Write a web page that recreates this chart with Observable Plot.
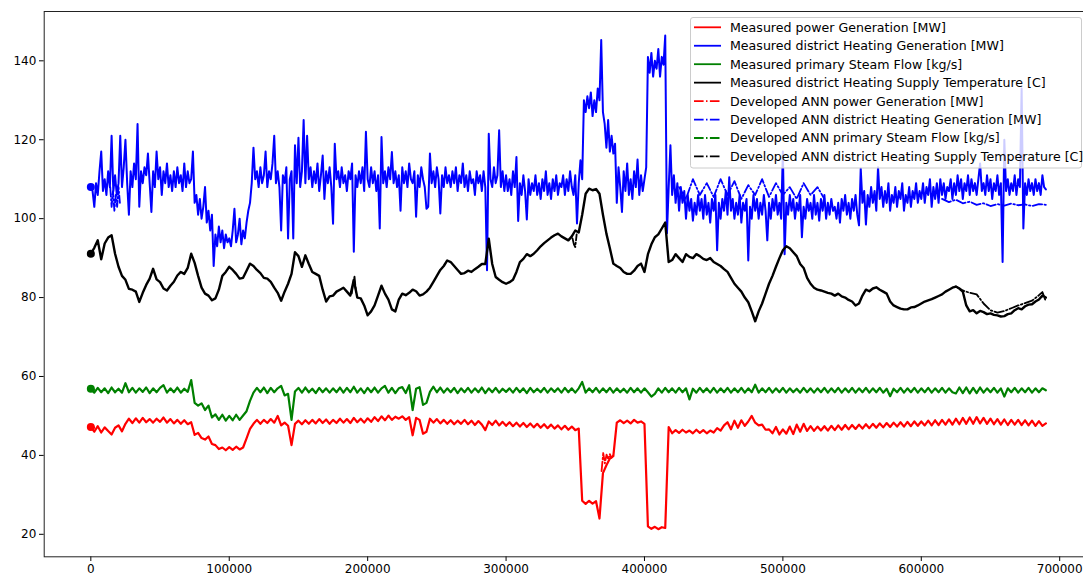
<!DOCTYPE html>
<html>
<head>
<meta charset="utf-8">
<script src="https://cdn.jsdelivr.net/npm/d3@7"></script>
<script src="https://cdn.jsdelivr.net/npm/@observablehq/plot@0.6"></script>
<style>
  html, body { margin: 0; padding: 0; background: #fff; overflow: hidden; }
</style>
</head>
<body>
<div id="chart"></div>
<script>
// Sample spacing of the logged series (time index units)
const heatStep = 1250;   // district heating generation
const plantStep = 2500;  // power, steam flow, supply temperature

// Measured district heating generation [MW], one value every 1250 samples
const heating = [
  108, 107, 103, 109, 106, 112, 117, 107, 110, 106, 112, 108, 121, 107, 111, 106,
  109, 121, 108, 113, 120, 109, 101, 112, 108, 114, 110, 124, 103, 112, 109, 113,
  111, 116.5, 109, 101.7, 112, 108, 117, 110, 113, 106, 112, 109, 114, 108, 111, 107,
  112, 108, 113, 109, 111, 107, 114, 108, 112, 109, 110, 117, 104, 106, 101, 105,
  100, 103, 108, 99, 102, 97, 101, 88, 96, 93, 98, 94, 97, 92.5, 96, 94,
  95, 93, 97, 102.5, 94, 96, 100, 93.5, 97, 95, 99, 102, 104, 109, 118, 110,
  112, 108, 113, 109, 111, 117, 108, 112, 110, 114, 121, 109, 112, 108, 97, 111,
  109, 113, 95, 110, 112, 95, 118.6, 109, 120.5, 108, 112, 125, 109, 121, 110, 113,
  108, 112, 109, 114, 107, 111, 116, 105, 112, 109, 113, 108, 98.7, 119, 110, 112,
  108, 113, 109, 111, 107, 112, 110, 114, 91.6, 111, 108, 112, 109, 113, 107, 122,
  110, 108, 113, 109, 112, 107, 111, 97.5, 120.7, 109, 112, 108, 113, 110, 116.9, 109,
  112, 108, 111, 102, 113, 109, 112, 108, 114, 110, 109, 112, 100.5, 111, 108, 113,
  110, 108, 102.5, 103, 116.5, 109, 112, 108, 113, 110, 101.3, 111, 108, 113, 109, 111,
  108, 112, 109, 113, 107, 111, 109, 114, 108, 111, 107, 112, 109, 110, 106, 112,
  109, 111, 107, 112, 108, 86.9, 121.5, 110, 108, 113, 109, 111, 122.4, 108, 112, 107,
  111, 107, 110, 106, 112, 108, 115.6, 99.4, 109, 106, 111, 107, 99.8, 110, 106, 109,
  107, 111, 106, 109, 105, 110, 107, 112, 106, 109, 105, 110, 107, 111, 106, 109,
  108, 111, 106, 110, 107, 112, 108, 106, 111, 98.8, 109, 114.8, 110, 130, 127, 131,
  128, 132, 126, 130, 127, 133, 130, 145.3, 127, 124, 118, 125, 117, 121, 116.5, 119,
  104, 113, 108, 101.7, 112, 107, 114, 106, 110, 105, 112, 108, 115, 106, 111, 107,
  110, 113, 141, 137, 142, 136, 140, 138, 143, 136, 141, 139, 146.4, 96.3, 108, 118.6,
  106, 111, 104, 109, 102, 108, 104, 107, 100, 106, 102, 105, 99.5, 104, 101, 106,
  102, 105, 100, 106, 101, 104, 99, 105, 102, 106, 92, 104, 100, 105, 102, 107,
  101, 110.5, 102, 105, 100, 104, 101, 106, 99, 104, 102, 105, 89.4, 103, 100, 106,
  102, 105, 100, 104, 101, 106, 102, 94.5, 104, 100, 105, 102, 106, 101, 104, 100,
  117, 91, 104, 101, 106, 102, 105, 100, 104, 102, 106, 95.3, 103, 100, 105, 102,
  104, 100, 106, 101, 104, 99.5, 105, 102, 106, 100, 104, 101, 105, 102, 103, 100,
  104, 99, 105, 102, 106, 101, 104, 100, 105, 102, 106, 101, 98.3, 112.7, 104, 107,
  98.5, 106, 103, 108, 104, 107, 102, 113, 105, 108, 103, 107, 104, 109, 102, 106,
  104, 108, 103, 107, 105, 109, 102, 106, 104, 108, 103, 107, 105, 109, 104, 107,
  105, 109, 104, 108, 106, 110, 103, 108, 105, 109, 104, 110, 106, 109, 105, 108,
  107, 110, 105, 109, 106, 111, 107, 110, 105, 109, 107, 111, 106, 110, 107, 109,
  106, 110, 114, 107, 109, 106, 111, 107, 110, 105, 109, 107, 111, 106, 109, 89,
  120, 107, 110, 106, 109, 107, 111, 106, 110, 108, 133, 97.5, 109, 106, 110, 107,
  109, 106, 110, 107, 109, 106, 111, 108, 107.4
];

// Measured primary steam flow [kg/s], one value every 2500 samples
const steam = [
  56.9, 55.9, 57.1, 56.0, 57.0, 55.8, 57.2, 56.0, 56.9, 55.9,
  58.3, 56.0, 57.1, 55.9, 57.0, 56.1, 57.2, 55.8, 57.0, 56.0,
  57.1, 57.8, 55.9, 57.0, 56.0, 57.2, 55.9, 56.9, 56.1, 59.1,
  53.3, 52.6, 53.2, 51.5, 52.6, 49.6, 50.4, 49.0, 50.3, 48.8,
  50.0, 48.9, 50.3, 49.0, 50.1, 51.2, 53.8, 55.9, 57.1, 56.0,
  57.2, 55.8, 57.1, 56.0, 57.0, 57.6, 55.2, 55.6, 49.0, 56.2,
  57.1, 55.9, 57.2, 56.0, 56.9, 55.8, 57.1, 56.0, 57.0, 55.9,
  57.0, 56.0, 57.2, 55.9, 57.1, 56.0, 57.4, 55.9, 57.0, 55.8,
  57.1, 56.0, 57.2, 55.9, 57.0, 57.6, 55.9, 57.1, 55.8, 57.0,
  57.3, 55.8, 57.8, 51.5, 56.9, 57.3, 52.8, 53.3, 56.1, 57.4,
  56.0, 57.2, 55.9, 57.0, 56.0, 57.1, 55.8, 57.0, 56.0, 57.1,
  55.9, 57.0, 56.0, 57.2, 55.8, 57.0, 56.0, 57.1, 55.9, 56.9,
  56.1, 57.0, 55.9, 57.1, 56.0, 57.0, 55.8, 57.1, 56.0, 56.9,
  56.0, 57.1, 55.9, 57.0, 56.1, 57.0, 55.9, 57.1, 56.0, 57.0,
  55.9, 57.0, 58.6, 55.9, 57.0, 56.0, 57.1, 55.9, 57.0, 56.0,
  57.1, 55.9, 57.0, 56.0, 56.9, 55.9, 57.1, 56.0, 57.0, 55.9,
  57.0, 56.0, 54.9, 55.6, 57.0, 55.9, 57.1, 56.0, 57.0, 55.9,
  57.1, 56.0, 57.0, 54.2, 56.9, 55.9, 57.1, 56.0, 57.0, 55.9,
  57.1, 55.9, 57.0, 56.0, 57.1, 55.9, 57.0, 56.0, 57.1, 55.9,
  57.0, 56.0, 57.9, 55.9, 57.0, 56.0, 57.1, 55.9, 57.0, 56.0,
  57.1, 55.9, 57.0, 56.0, 56.9, 55.9, 57.1, 56.0, 57.0, 55.9,
  57.0, 56.0, 57.1, 55.9, 57.0, 56.0, 57.1, 55.9, 57.0, 56.0,
  57.1, 55.9, 57.0, 56.0, 57.1, 55.9, 57.0, 56.0, 57.1, 55.9,
  56.9, 55.0, 56.9, 56.0, 57.1, 55.9, 57.0, 56.0, 57.1, 55.9,
  57.0, 56.0, 57.1, 55.9, 57.0, 56.0, 57.1, 55.9, 57.0, 56.0,
  55.7, 57.2, 55.8, 57.2, 55.7, 57.1, 55.8, 57.2, 55.9, 57.0,
  56.0, 57.1, 55.9, 57.0, 54.9, 57.0, 56.0, 57.1, 55.9, 57.0,
  56.0, 57.1, 55.9, 57.0, 56.0, 57.0, 56.5
];

// Measured power generation [MW], one value every 2500 samples
const power = [
  47.2, 46.0, 47.4, 45.8, 47.1, 46.2, 45.3, 47.0, 47.6, 46.1,
  48.0, 49.3, 48.2, 49.4, 48.3, 49.5, 48.4, 49.2, 48.3, 49.3,
  48.5, 49.6, 48.3, 49.2, 48.1, 49.0, 48.0, 48.9, 47.9, 48.4,
  45.2, 45.7, 44.4, 44.0, 44.8, 42.9, 42.6, 41.6, 42.0, 41.3,
  42.1, 41.4, 42.2, 41.5, 42.0, 44.3, 46.7, 48.0, 49.0, 48.0,
  49.0, 48.2, 49.2, 48.3, 50.0, 47.6, 48.3, 47.5, 42.6, 48.0,
  48.8, 47.9, 48.9, 48.0, 49.0, 48.1, 49.2, 48.2, 49.1, 48.0,
  49.0, 48.2, 49.3, 48.3, 49.2, 48.2, 49.5, 48.4, 49.3, 48.3,
  49.4, 48.5, 49.7, 48.7, 49.9, 48.9, 50.1, 49.0, 49.8, 49.3,
  49.9, 49.0, 49.7, 45.1, 49.5, 49.0, 45.5, 46.0, 49.3, 48.3,
  49.2, 48.1, 49.0, 48.0, 48.9, 47.9, 48.8, 48.0, 49.0, 47.9,
  48.8, 47.7, 48.7, 47.8, 46.4, 48.6, 47.7, 48.8, 47.6, 48.5,
  47.5, 48.4, 47.4, 48.3, 47.3, 48.2, 47.2, 48.1, 47.1, 48.0,
  47.0, 47.9, 46.9, 47.8, 46.8, 47.6, 46.6, 47.5, 46.5, 47.3,
  46.4, 46.8, 28.5, 27.7, 28.5, 27.8, 28.4, 24.0, 35.5, 37.5,
  39.2, 39.8, 48.3, 48.9, 48.2, 48.8, 48.1, 49.0, 48.3, 48.6,
  48.0, 22.0, 21.4, 21.9, 21.3, 21.8, 21.6, 47.2, 45.6, 46.4,
  45.7, 46.5, 45.8, 46.3, 45.6, 46.5, 45.7, 46.4, 45.6, 46.3,
  45.8, 46.9, 46.3, 47.6, 48.4, 46.6, 48.8, 47.0, 48.9, 47.5,
  48.6, 50.0, 48.3, 47.6, 47.8, 46.5, 46.6, 45.6, 47.2, 45.3,
  46.6, 45.5, 47.3, 45.4, 47.8, 46.0, 48.0, 46.2, 47.4, 46.2,
  47.3, 46.3, 47.4, 46.3, 47.5, 46.4, 47.6, 46.5, 47.7, 46.6,
  47.7, 46.7, 47.8, 46.8, 47.9, 46.9, 48.0, 47.0, 48.1, 47.1,
  48.2, 47.2, 48.3, 47.3, 48.4, 47.3, 48.5, 47.4, 48.6, 47.5,
  48.6, 47.6, 48.8, 47.6, 48.9, 47.7, 49.0, 47.8, 49.1, 47.8,
  49.3, 47.9, 49.5, 48.0, 49.6, 48.0, 49.7, 48.1, 49.5, 48.0,
  49.3, 47.9, 49.2, 47.8, 49.1, 47.7, 49.0, 47.8, 49.0, 47.7,
  48.9, 47.6, 48.8, 47.5, 48.7, 47.5, 48.1
];

// Measured district heating supply temperature [C], one value every 2500 samples
const supplyTemp = [
  91.1, 92.6, 94.5, 89.7, 93.7, 95.2, 95.8, 91.1, 87.8, 85.5,
  84.5, 82.2, 82.0, 81.5, 78.9, 81.2, 83.2, 84.8, 87.3, 84.6,
  83.9, 82.3, 81.8, 83.0, 84.0, 85.6, 86.5, 86.0, 87.5, 91.1,
  88.8, 85.5, 82.5, 81.0, 80.5, 79.3, 79.8, 82.0, 85.5, 86.5,
  87.8, 87.0, 86.0, 84.8, 85.0, 86.8, 88.6, 88.0, 87.0, 86.2,
  85.0, 84.8, 84.0, 82.5, 81.2, 79.2, 81.5, 83.5, 86.0, 91.5,
  90.5, 87.8, 90.7, 88.5, 86.5, 86.0, 85.5, 82.0, 79.0, 80.3,
  80.5, 81.5, 82.0, 82.5, 81.5, 80.5, 84.5, 80.0, 79.8, 78.0,
  75.5, 76.5, 78.0, 80.5, 83.0, 81.0, 79.5, 77.0, 76.5, 79.5,
  81.0, 80.6, 81.2, 82.0, 81.6, 80.5, 80.8, 81.5, 82.5, 84.0,
  85.5, 87.0, 88.0, 89.4, 89.0, 88.0, 87.0, 86.0, 86.2, 86.8,
  86.5, 87.2, 87.8, 88.5, 88.5, 94.9, 88.5, 85.2, 84.5, 83.9,
  83.5, 83.9, 84.5, 86.5, 89.0, 89.8, 91.0, 90.5, 91.1, 92.0,
  93.0, 93.8, 94.5, 95.2, 95.8, 96.2, 95.5, 95.0, 94.5, 95.5,
  97.0, 96.5, 101.0, 106.3, 107.6, 107.2, 107.5, 106.3, 101.0, 96.2,
  92.5, 88.6, 88.0, 87.5, 86.5, 86.0, 86.0, 86.8, 88.0, 88.6,
  86.5, 91.0, 93.5, 95.3, 96.0, 97.5, 99.0, 89.0, 89.5, 91.0,
  90.0, 89.0, 91.0, 90.3, 90.0, 91.0, 90.5, 89.8, 89.5, 90.0,
  89.0, 88.5, 88.0, 87.2, 86.5, 85.0, 83.5, 82.5, 81.5, 80.0,
  78.8, 76.5, 74.0, 76.5, 78.5, 81.0, 83.5, 85.5, 87.8, 90.0,
  92.0, 93.0, 92.5, 91.5, 90.5, 88.5, 87.5, 85.0, 83.5, 82.5,
  82.0, 81.8, 81.5, 81.2, 81.0, 80.5, 81.0, 80.3, 80.0, 79.4,
  79.0, 78.0, 78.5, 80.5, 82.0, 81.6, 82.3, 82.6, 82.0, 81.5,
  81.0, 79.0, 78.0, 77.6, 77.2, 77.0, 77.0, 77.5, 77.6, 78.0,
  78.5, 79.0, 79.3, 79.6, 80.0, 80.4, 80.8, 81.5, 82.0, 82.5,
  82.8, 82.3, 81.5, 78.0, 76.5, 76.8, 76.0, 76.6, 76.3, 75.8,
  76.0, 75.6, 75.5, 75.2, 75.3, 75.8, 76.0, 76.8, 77.3, 77.0,
  77.8, 78.2, 78.3, 79.0, 79.5, 80.5, 80.0
];

// Developed ANN outputs where they separate from the measurements (null breaks a segment)
const annPowerX = [0, 800, 1600, 2400, null, 369000, 370200, 371400, 372600, 373800, 375000, 376200, 377400];
const annPower  = [47.4, 46.9, 47.5, 47.0, null, 36.0, 40.6, 38.0, 40.2, 39.0, 40.3, 39.4, 40.0];

const annHeatX = [
  14000, 15000, 16000, 17000, 18000, 19000, 20000, 21000, null,
  425000, 430000, 435000, 440000, 445000, 450000, 455000, 460000, 465000, 470000, 475000,
  480000, 485000, 490000, 495000, 500000, 505000, 510000, 515000, 520000, 525000, 530000, null,
  615000, 620000, 625000, 630000, 635000, 640000, 645000, 650000, 655000, 660000,
  665000, 670000, 675000, 680000, 685000, 690000
];
const annHeat = [
  108, 103, 107, 102, 106, 103, 108, 104, null,
  108, 105, 110, 106, 109, 105.5, 110, 106, 109.5, 105, 108.5,
  106, 110, 105.5, 109, 106, 108, 105, 109, 106, 108, 105, null,
  105, 104.2, 104.8, 103.9, 104.3, 103.5, 103.9, 103.2, 103.7, 103.3,
  103.8, 103.4, 103.6, 103.2, 103.7, 103.5
];

const annSteamX = [0, 800, 1600, 2400];
const annSteam  = [56.9, 56.5, 57.0, 56.6];

const annTempX = [
  188500, 189500, 190500, 191500, null,
  348000, 349000, 350000, 351000, null,
  625000, 630000, 635000, 640000, 645000, 650000, 655000, 660000, 665000,
  670000, 675000, 680000, 685000, 687500, 690000
];
const annTemp = [
  81.0, 83.5, 85.3, 81.5, null,
  95.0, 93.5, 92.8, 96.0, null,
  82.8, 81.8, 81.2, 80.8, 78.5, 76.8, 76.2, 76.6, 77.3,
  78.0, 78.6, 79.2, 80.6, 81.4, 79.0
];

// Axis ticks
const xTicks = [0, 100000, 200000, 300000, 400000, 500000, 600000, 700000];
const yTicks = [20, 40, 60, 80, 100, 120, 140];

// Legend labels
const measuredLabels = [
  "Measured power Generation [MW]",
  "Measured district Heating Generation [MW]",
  "Measured primary Steam Flow [kg/s]",
  "Measured district Heating Supply Temperature [C]"
];
const annLabels = [
  "Developed ANN power Generation [MW]",
  "Developed ANN district Heating Generation [MW]",
  "Developed ANN primary Steam Flow [kg/s]",
  "Developed ANN district Heating Supply Temperature [C]"
];
const seriesColors = ["#ff0000", "#0000ff", "#008000", "#000000"];
const measuredWidths = [2.2, 2.0, 2.2, 2.4];

// Build point tables
const sampled = (values, step) => values.map((v, i) => ({x: i * step, y: v}));
const paired = (xs, ys) => xs.map((x, i) => ({x: x, y: ys[i]}));

const measured = [
  sampled(power, plantStep),
  sampled(heating, heatStep),
  sampled(steam, plantStep),
  sampled(supplyTemp, plantStep)
];
const ann = [
  paired(annPowerX, annPower),
  paired(annHeatX, annHeat),
  paired(annSteamX, annSteam),
  paired(annTempX, annTemp)
];
const starts = measured.map((s, k) => ({x: s[0].x, y: s[0].y, c: seriesColors[k]}));

const dashDot = "9.6,2.4,1.5,2.4";
const lineWidth = 1.8;

const chart = Plot.plot({
  width: 1083,
  height: 577,
  marginLeft: 43.7,
  marginRight: -10.1,
  marginTop: 11,
  marginBottom: 20.7,
  style: {fontFamily: "'DejaVu Sans', sans-serif", fontSize: "12px", color: "#000", background: "#fff"},
  x: {domain: [-33700, 724500], ticks: xTicks, tickFormat: d => String(d), tickSize: 4.7, tickPadding: 3.2, label: null},
  y: {domain: [14.3, 152.5], ticks: yTicks, tickSize: 4.7, tickPadding: 3.2, label: null},
  marks: [
    ...measured.map((s, k) => Plot.line(s, {x: "x", y: "y", stroke: seriesColors[k], strokeWidth: measuredWidths[k], strokeLinejoin: "round"})),
    ...ann.map((s, k) => Plot.line(s, {x: "x", y: "y", stroke: seriesColors[k], strokeWidth: lineWidth, strokeDasharray: dashDot})),
    Plot.dot(starts, {x: "x", y: "y", r: 4, fill: "c", stroke: null}),
    Plot.frame({stroke: "#222", strokeWidth: 1})
  ]
});

document.getElementById("chart").appendChild(chart);

// Legend box in the upper right of the axes
const svg = d3.select(chart);
const legend = svg.append("g")
  .attr("font-family", "'DejaVu Sans', sans-serif")
  .attr("font-size", 12.6)
  .attr("text-anchor", "start");
legend.append("rect")
  .attr("x", 690.5).attr("y", 17.5)
  .attr("width", 391).attr("height", 150.5)
  .attr("rx", 2.5)
  .attr("fill", "#fff").attr("fill-opacity", 0.8)
  .attr("stroke", "#cccccc").attr("stroke-width", 1);

const entries = [
  ...measuredLabels.map((t, k) => ({label: t, color: seriesColors[k], dash: null})),
  ...annLabels.map((t, k) => ({label: t, color: seriesColors[k], dash: dashDot}))
];
entries.forEach((e, k) => {
  const cy = 27.3 + k * 18.45;
  legend.append("line")
    .attr("x1", 694).attr("x2", 721)
    .attr("y1", cy).attr("y2", cy)
    .attr("stroke", e.color).attr("stroke-width", lineWidth)
    .attr("stroke-dasharray", e.dash);
  legend.append("text")
    .attr("x", 730).attr("y", cy)
    .attr("dy", "0.35em")
    .attr("text-anchor", "start")
    .attr("fill", "#000")
    .text(e.label);
});
</script>
</body>
</html>
